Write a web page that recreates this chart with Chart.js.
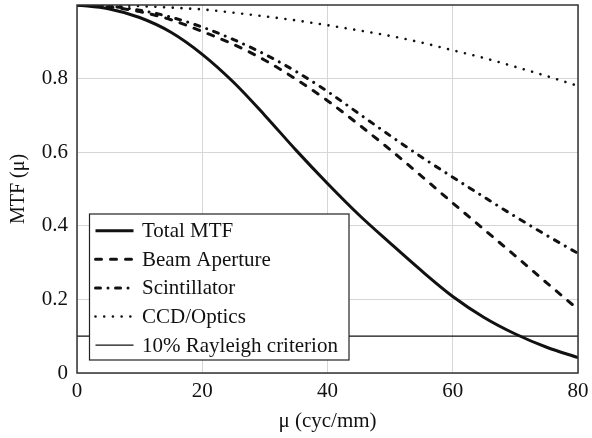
<!DOCTYPE html>
<html>
<head>
<meta charset="utf-8">
<script src="https://cdn.jsdelivr.net/npm/chart.js@4"></script>
<style>
  html, body { margin: 0; padding: 0; background: #fff; }
  #wrap { width: 592px; height: 438px; }
</style>
</head>
<body>
<div id="wrap"><canvas id="mtf"></canvas></div>
<script>
// spatial frequency, cyc/mm
const mu = [0, 5, 10, 15, 20, 25, 30, 35, 40, 45, 50, 55, 60, 65, 70, 75, 80];

const totalMtf     = [1.0, 0.99, 0.966, 0.926, 0.866, 0.79, 0.70, 0.605, 0.515, 0.43, 0.353, 0.278, 0.208, 0.151, 0.106, 0.07, 0.042];
const beamAperture = [1.0, 0.995, 0.982, 0.96, 0.928, 0.893, 0.85, 0.798, 0.74, 0.675, 0.607, 0.535, 0.462, 0.39, 0.318, 0.245, 0.173];
const scintillator = [1.0, 0.997, 0.986, 0.967, 0.94, 0.906, 0.866, 0.819, 0.765, 0.705, 0.645, 0.587, 0.532, 0.478, 0.425, 0.374, 0.325];
const ccdOptics    = [1.0, 0.999, 0.997, 0.993, 0.988, 0.979, 0.969, 0.958, 0.945, 0.931, 0.916, 0.898, 0.877, 0.856, 0.832, 0.807, 0.78];
const rayleighX    = [0, 80];
const rayleighY    = [0.1, 0.1];

const xTicks = [0, 20, 40, 60, 80];
const yTicks = [0, 0.2, 0.4, 0.6, 0.8];

const FONT = "'Liberation Serif', 'DejaVu Serif', serif";
const INK = '#111';
const SIZE = 21;

function pts(xs, ys) {
    return xs.map((x, i) => ({ x: x, y: ys[i] }));
}

function main() {
    const ctx = document.querySelector('#mtf').getContext('2d');

    // frame round the plot + legend box inside the plot, bottom left
    const frameAndLegend = {
        id: 'frameAndLegend',
        afterDatasetsDraw(chart) {
            const c = chart.ctx;
            const area = chart.chartArea;
            c.save();
            c.strokeStyle = '#333';
            c.lineWidth = 1.5;
            c.strokeRect(area.left, area.top, area.right - area.left, area.bottom - area.top);

            const w = 259.5, h = 146;
            const lx = area.left + 12.5;
            const ly = area.bottom - 13 - h;
            c.fillStyle = '#fff';
            c.fillRect(lx, ly, w, h);
            c.strokeStyle = '#222';
            c.lineWidth = 1.2;
            c.strokeRect(lx, ly, w, h);

            c.font = SIZE + 'px ' + FONT;
            c.textBaseline = 'middle';
            chart.data.datasets.forEach((ds, i) => {
                const y = ly + 16.7 + i * 28.6;
                c.beginPath();
                c.setLineDash(ds.borderDash || []);
                c.lineCap = ds.borderCapStyle || 'butt';
                c.lineWidth = ds.borderWidth;
                c.strokeStyle = ds.borderColor;
                c.moveTo(lx + 6, y);
                c.lineTo(lx + 44, y);
                c.stroke();
                c.setLineDash([]);
                c.fillStyle = INK;
                c.fillText(ds.label, lx + 52.5, y + 1);
            });
            c.restore();
        }
    };

    new Chart(ctx, {
        type: 'line',
        data: {
            datasets: [
                {
                    label: 'Total MTF',
                    data: pts(mu, totalMtf),
                    borderColor: INK,
                    borderWidth: 3,
                },
                {
                    label: 'Beam Aperture',
                    data: pts(mu, beamAperture),
                    borderColor: INK,
                    borderWidth: 3,
                    borderDash: [6, 9],
                    borderCapStyle: 'round',
                },
                {
                    label: 'Scintillator',
                    data: pts(mu, scintillator),
                    borderColor: INK,
                    borderWidth: 3,
                    borderDash: [5, 7.5, 0.01, 7.5],
                    borderCapStyle: 'round',
                },
                {
                    label: 'CCD/Optics',
                    data: pts(mu, ccdOptics),
                    borderColor: INK,
                    borderWidth: 2.6,
                    borderDash: [0.01, 8.7],
                    borderCapStyle: 'round',
                },
                {
                    label: '10% Rayleigh criterion',
                    data: pts(rayleighX, rayleighY),
                    borderColor: INK,
                    borderWidth: 1.3,
                    tension: 0,
                },
            ],
        },
        options: {
            responsive: true,
            maintainAspectRatio: false,
            animation: false,
            layout: { padding: { left: 4, right: 14, top: 5, bottom: 0 } },
            elements: {
                point: { radius: 0 },
                line: { cubicInterpolationMode: 'monotone', fill: false },
            },
            plugins: {
                legend: { display: false },
                tooltip: { enabled: false },
            },
            scales: {
                x: {
                    type: 'linear',
                    min: 0,
                    max: 80,
                    afterBuildTicks: (s) => { s.ticks = xTicks.map(v => ({ value: v })); },
                    grid: { color: '#d6d6d6', lineWidth: 1, drawTicks: false },
                    border: { display: false },
                    ticks: { color: INK, padding: 6, font: { family: FONT, size: SIZE } },
                    title: {
                        display: true,
                        text: 'μ (cyc/mm)',
                        color: INK,
                        font: { family: FONT, size: SIZE },
                        padding: { top: 4, bottom: 4 },
                    },
                    afterFit: (s) => {
                        s.height = 65;
                        s.paddingLeft = 0;
                        s.paddingRight = 0;
                    },
                },
                y: {
                    min: 0,
                    max: 1,
                    afterBuildTicks: (s) => { s.ticks = yTicks.map(v => ({ value: v })); },
                    grid: { color: '#d6d6d6', lineWidth: 1, drawTicks: false },
                    border: { display: false },
                    ticks: {
                        color: INK,
                        padding: 9,
                        font: { family: FONT, size: SIZE },
                        callback: (v) => String(v),
                    },
                    title: {
                        display: true,
                        text: 'MTF (μ)',
                        color: INK,
                        font: { family: FONT, size: 20 },
                        padding: { top: 3, bottom: 4 },
                    },
                    afterFit: (s) => {
                        s.width = 73;
                        s.paddingTop = 0;
                        s.paddingBottom = 0;
                    },
                },
            },
        },
        plugins: [frameAndLegend],
    });
}

document.addEventListener('DOMContentLoaded', () => {
    main();
});
</script>
</body>
</html>
